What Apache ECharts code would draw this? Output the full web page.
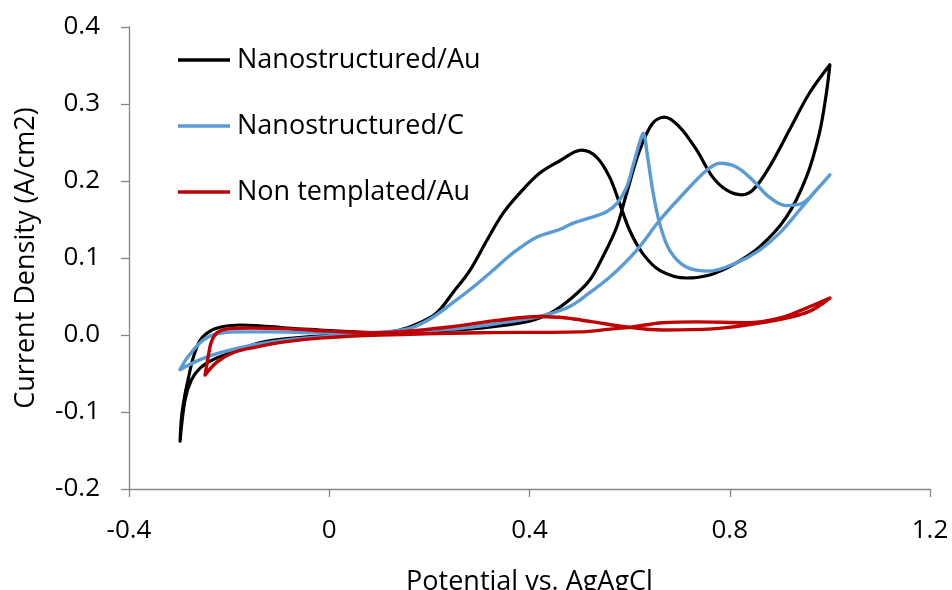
<!DOCTYPE html>
<html>
<head>
<meta charset="utf-8">
<script src="https://cdn.jsdelivr.net/npm/echarts@6/dist/echarts.min.js"></script>
<style>
  html, body { margin: 0; padding: 0; background: #ffffff; }
  #chart { width: 952px; height: 590px; }
</style>
</head>
<body>
<div id="chart"></div>
<script>
// Cyclic voltammograms: potential (V vs. Ag/AgCl) and current density (A/cm2),
// each listed in scan order (forward sweep, then reverse sweep back to the start).
const seriesNames = ['Nanostructured/Au', 'Nanostructured/C', 'Non templated/Au'];

const auPotential = [
  -0.298, -0.295, -0.289, -0.282, -0.272, -0.258, -0.238, -0.212, -0.178, -0.139, -0.085, -0.019, 0.05, 0.101,
  0.201, 0.301, 0.400, 0.446, 0.486, 0.520, 0.546, 0.574, 0.594, 0.620, 0.646, 0.670, 0.700, 0.734, 0.766,
  0.794, 0.824, 0.846, 0.879, 0.919, 0.959, 1.000,
  0.993, 0.979, 0.953, 0.913, 0.859, 0.806, 0.760, 0.714, 0.660, 0.626, 0.600, 0.580, 0.560, 0.534, 0.504,
  0.460, 0.420, 0.380, 0.347, 0.315, 0.281, 0.247, 0.215, 0.181, 0.141, 0.101, 0.015, -0.073, -0.139,
  -0.192, -0.232, -0.258, -0.275, -0.288, -0.298
];
const auCurrent = [
  -0.138, -0.106, -0.080, -0.058, -0.030, -0.007, 0.005, 0.011, 0.013, 0.012, 0.009, 0.0065, 0.004, 0.003,
  0.005, 0.009, 0.018, 0.030, 0.049, 0.071, 0.101, 0.140, 0.184, 0.240, 0.275, 0.283, 0.270, 0.240, 0.205,
  0.188, 0.182, 0.188, 0.218, 0.266, 0.314, 0.351,
  0.314, 0.262, 0.205, 0.153, 0.114, 0.091, 0.078, 0.074, 0.084, 0.106, 0.136, 0.171, 0.205, 0.231, 0.240,
  0.226, 0.210, 0.184, 0.158, 0.123, 0.084, 0.055, 0.029, 0.016, 0.0065, 0.003, 0.0, -0.004, -0.010,
  -0.022, -0.032, -0.043, -0.058, -0.084, -0.138
];

const cPotential = [
  -0.298, -0.258, -0.218, -0.152, -0.085, 0.015, 0.101, 0.167, 0.267, 0.355, 0.420, 0.474, 0.500, 0.514,
  0.560, 0.614, 0.660, 0.714, 0.754, 0.780, 0.814, 0.846, 0.879, 0.913, 0.945, 0.978, 1.000,
  0.973, 0.939, 0.899, 0.859, 0.814, 0.760, 0.714, 0.680, 0.660, 0.646, 0.636, 0.627, 0.620, 0.606,
  0.594, 0.576, 0.554, 0.520, 0.486, 0.460, 0.414, 0.366, 0.327, 0.287, 0.247, 0.207, 0.167, 0.127,
  0.050, -0.019, -0.119, -0.184, -0.232, -0.258, -0.284, -0.298
];
const cCurrent = [
  -0.045, -0.032, -0.023, -0.013, -0.0065, -0.001, 0.001, 0.004, 0.009, 0.017, 0.024, 0.035, 0.045, 0.052,
  0.075, 0.110, 0.149, 0.188, 0.214, 0.223, 0.218, 0.201, 0.179, 0.168, 0.171, 0.192, 0.208,
  0.188, 0.162, 0.132, 0.110, 0.094, 0.083, 0.088, 0.110, 0.145, 0.188, 0.231, 0.262, 0.250, 0.218,
  0.192, 0.172, 0.160, 0.152, 0.145, 0.137, 0.127, 0.106, 0.084, 0.062, 0.042, 0.023, 0.010, 0.005,
  0.003, 0.003, 0.004, 0.004, 0.0, -0.010, -0.030, -0.045
];

const ntPotential = [
  -0.248, -0.224, -0.192, -0.149, -0.089, -0.019, 0.101, 0.300, 0.500, 0.566, 0.600, 0.666, 0.734, 0.834,
  0.899, 0.953, 1.000,
  0.953, 0.865, 0.766, 0.666, 0.600, 0.526, 0.474, 0.420, 0.335, 0.235, 0.101, 0.001, -0.079, -0.158,
  -0.202, -0.224, -0.236, -0.242, -0.248
];
const ntCurrent = [
  -0.052, -0.035, -0.023, -0.016, -0.009, -0.004, 0.0, 0.003, 0.004, 0.008, 0.010, 0.016, 0.017, 0.016,
  0.022, 0.035, 0.048,
  0.029, 0.016, 0.008, 0.0065, 0.010, 0.017, 0.022, 0.024, 0.019, 0.010, 0.003, 0.005, 0.008, 0.009,
  0.008, 0.003, -0.010, -0.029, -0.052
];

const xTicks = { min: -0.4, max: 1.2, step: 0.4 };
const yTicks = { min: -0.2, max: 0.4, step: 0.1 };

const FONT = '"Open Sans", "Noto Sans", sans-serif';
const AXIS_GREY = '#868686';

function pairs(xs, ys) {
  return xs.map((x, i) => [x, ys[i]]);
}

function cvSeries(name, xs, ys, color, width) {
  return {
    name: name,
    type: 'line',
    data: pairs(xs, ys),
    smooth: 0.35,
    symbol: 'none',
    showSymbol: false,
    clip: true,
    lineStyle: { color: color, width: width, cap: 'round', join: 'round' },
    itemStyle: { color: color },
    emphasis: { disabled: true }
  };
}

const chart = echarts.init(document.getElementById('chart'), null, { renderer: 'canvas' });

chart.setOption({
  animation: false,
  backgroundColor: '#ffffff',
  grid: { left: 129, right: 22, top: 27, bottom: 101, containLabel: false, outerBoundsMode: 'none' },
  legend: {
    orient: 'vertical',
    left: 178,
    top: 44,
    padding: 0,
    itemWidth: 52,
    itemHeight: 14,
    itemGap: 34,
    icon: 'path://M0,0 L52,0 L52,3.4 L0,3.4 Z',
    data: seriesNames,
    textStyle: { fontFamily: FONT, fontSize: 27, color: '#000000', lineHeight: 32, padding: [0, 0, 0, 2] }
  },
  xAxis: {
    type: 'value',
    min: xTicks.min,
    max: xTicks.max,
    interval: xTicks.step,
    name: 'Potential vs. AgAgCl',
    nameLocation: 'middle',
    nameGap: 80,
    nameTextStyle: { fontFamily: FONT, fontSize: 27, color: '#000000' },
    axisLine: { show: true, onZero: false, lineStyle: { color: AXIS_GREY, width: 1.3 } },
    axisTick: { show: true, length: 8, lineStyle: { color: AXIS_GREY, width: 1.3 } },
    axisLabel: {
      margin: 29,
      fontFamily: FONT, fontSize: 26, color: '#000000',
      formatter: v => (Math.abs(v) < 1e-9 ? '0' : v.toFixed(1))
    },
    splitLine: { show: false }
  },
  yAxis: {
    type: 'value',
    min: yTicks.min,
    max: yTicks.max,
    interval: yTicks.step,
    name: 'Current Density (A/cm2)',
    nameLocation: 'middle',
    nameGap: 89,
    nameTextStyle: { fontFamily: FONT, fontSize: 27, color: '#000000' },
    axisLine: { show: true, onZero: false, lineStyle: { color: AXIS_GREY, width: 1.3 } },
    axisTick: { show: true, length: 8, lineStyle: { color: AXIS_GREY, width: 1.3 } },
    axisLabel: {
      margin: 29,
      fontFamily: FONT, fontSize: 26, color: '#000000',
      formatter: v => v.toFixed(1)
    },
    splitLine: { show: false }
  },
  series: [
    cvSeries(seriesNames[0], auPotential, auCurrent, '#000000', 3.2),
    cvSeries(seriesNames[1], cPotential, cCurrent, '#5B9BD5', 3.4),
    cvSeries(seriesNames[2], ntPotential, ntCurrent, '#C00000', 3.4)
  ]
});
</script>
</body>
</html>
